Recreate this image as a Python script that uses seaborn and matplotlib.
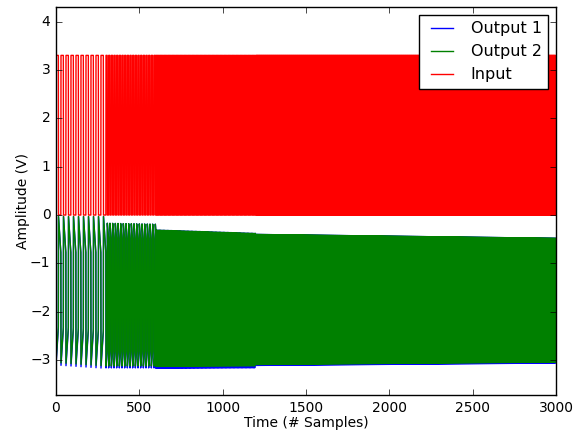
import numpy as np
import pandas as pd
import matplotlib
matplotlib.use("Agg")
import matplotlib.pyplot as plt
import seaborn as sns

# 读图得到的数据：分段（样本区间）、输入方波周期、输出包络
seg_start = [0, 300, 600, 1200]
seg_end = [300, 600, 1200, 3000]
input_period = [30, 16, 8, 4]
input_high = 3.3

# Output 2 (绿) 上沿 / 下沿，每段起点与终点
out2_top_start = [-0.03, -0.17, -0.31, -0.40]
out2_top_end = [-0.03, -0.19, -0.38, -0.48]
out2_low_start = [-3.05, -3.12, -3.13, -3.09]
out2_low_end = [-3.12, -3.12, -3.12, -3.04]
# 每个半周期内的回落量
out_droop = [0.8, 0.35, 0.15, 0.08]
# Output 1 (蓝) 比 Output 2 稍低一点
out1_low_offset = [-0.05, -0.04, -0.04, -0.02]

n_samples = 3000
x_ticks = [0, 500, 1000, 1500, 2000, 2500, 3000]
y_ticks = [-3, -2, -1, 0, 1, 2, 3, 4]


def build_signals():
    samples = np.arange(n_samples)
    inp = np.zeros(n_samples)
    out1 = np.zeros(n_samples)
    out2 = np.zeros(n_samples)
    for i in range(len(seg_start)):
        idx = np.arange(seg_start[i], seg_end[i])
        p = input_period[i]
        half = p / 2.0
        phase = (idx - seg_start[i]) % p
        high = phase < half
        inp[idx] = np.where(high, input_high, 0.0)
        frac = (idx - seg_start[i]) / max(1, seg_end[i] - seg_start[i] - 1)
        top = out2_top_start[i] + (out2_top_end[i] - out2_top_start[i]) * frac
        low = out2_low_start[i] + (out2_low_end[i] - out2_low_start[i]) * frac
        d = out_droop[i]
        rise = low + d * (phase / half)
        fall = top - d * ((phase - half) / half)
        out2[idx] = np.where(high, rise, fall)
        low1 = low + out1_low_offset[i]
        rise1 = low1 + d * (phase / half)
        out1[idx] = np.where(high, rise1, fall)
    return samples, inp, out1, out2


samples, inp, out1, out2 = build_signals()
df = pd.DataFrame({"sample": samples, "Output 1": out1, "Output 2": out2, "Input": inp})

plt.style.use("classic")
plt.rcParams["figure.facecolor"] = "white"
plt.rcParams["savefig.facecolor"] = "white"
plt.rcParams["font.size"] = 10
plt.rcParams["font.family"] = ["DejaVu Sans"]

fig = plt.figure(figsize=(5.73, 4.34), dpi=100)
ax = fig.add_axes([56 / 573, 39 / 434, 500 / 573, 388 / 434])

for name, color in [("Output 1", "b"), ("Output 2", "g"), ("Input", "r")]:
    sns.lineplot(data=df, x="sample", y=name, color=color, label=name,
                 estimator=None, sort=False, linewidth=1.0, ax=ax)

ax.set_xlim(0, 3000)
ax.set_ylim(-3.72, 4.3)
ax.set_xticks(x_ticks)
ax.set_yticks(y_ticks)
ax.set_xlabel("Time (# Samples)", fontsize=10, labelpad=1)
ax.set_ylabel("Amplitude (V)", fontsize=10, labelpad=0)
ax.tick_params(labelsize=10, direction="in", top=True, right=True)
ax.legend(loc="upper right", fontsize=11.5)

fig.savefig("out.png", dpi=100)
